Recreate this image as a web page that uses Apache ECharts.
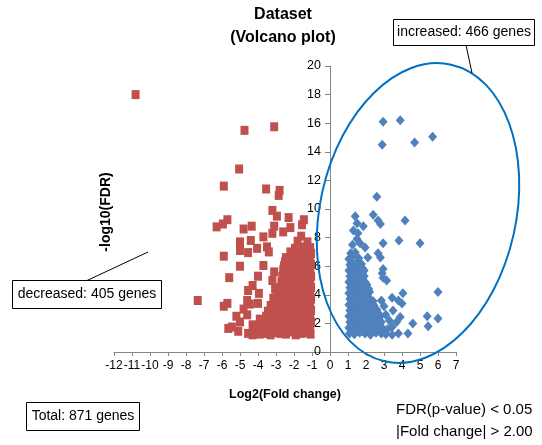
<!DOCTYPE html>
<html>
<head>
<meta charset="utf-8">
<script src="https://cdn.jsdelivr.net/npm/echarts@6/dist/echarts.min.js"></script>
<style>
  html, body { margin: 0; padding: 0; background: #fff; }
  #main { width: 542px; height: 445px; }
</style>
</head>
<body>
<div id="main"></div>
<script>
// decreased genes, log2 fold change / -log10 FDR
var decreased = [
  [-10.8, 18.0], [-4.75, 15.5], [-3.1, 15.75], [-5.05, 12.8], [-5.9, 11.6], [-3.55, 11.4],
  [-2.8, 11.3], [-2.85, 10.95], [-3.2, 9.9], [-2.95, 9.5], [-2.3, 9.4], [-1.45, 9.25], [-1.55, 8.9],
  [-6.3, 8.75], [-5.95, 8.95], [-5.7, 9.25], [-4.8, 8.6], [-4.35, 8.8], [-3.2, 8.3], [-3.1, 8.8],
  [-3.7, 8.05], [-4.4, 7.8], [-5.0, 7.7], [-2.6, 8.4], [-2.2, 8.7], [-5.0, 7.1], [-4.55, 6.95],
  [-4.05, 7.25], [-3.5, 7.35], [-3.4, 7.0], [-5.9, 6.7], [-5.0, 6.0], [-3.7, 6.05], [-3.1, 5.6],
  [-3.2, 5.0], [-5.6, 5.2], [-4.0, 5.3], [-4.3, 4.65], [-4.55, 4.3], [-3.95, 4.1], [-3.05, 4.4],
  [-7.35, 3.6], [-5.9, 3.2], [-5.7, 3.4], [-4.6, 3.6], [-4.45, 3.35], [-4.0, 3.4], [-4.8, 3.0],
  [-5.2, 2.5], [-5.0, 2.1], [-5.65, 1.65], [-5.1, 1.45], [-5.45, 1.75], [-4.3, 1.9], [-4.3, 1.2],
  [-4.6, 2.6], [-3.9, 2.3],
  [-1.08, 1.25], [-1.3, 1.35], [-1.6, 1.3], [-1.9, 1.2], [-2.2, 1.4], [-2.45, 1.25], [-2.75, 1.3],
  [-3.05, 1.35], [-3.3, 1.2], [-3.6, 1.3], [-3.9, 1.25], [-4.2, 1.4], [-4.55, 1.3],
  [-1.1, 1.7], [-1.4, 1.65], [-1.7, 1.75], [-2.0, 1.7], [-2.3, 1.8], [-2.6, 1.65], [-2.9, 1.7],
  [-3.2, 1.75], [-3.5, 1.8], [-3.8, 1.65], [-4.1, 1.7],
  [-1.05, 2.1], [-1.35, 2.15], [-1.65, 2.05], [-1.95, 2.1], [-2.25, 2.0], [-2.55, 2.15], [-2.85, 2.1],
  [-3.15, 2.05], [-3.45, 2.15], [-3.75, 2.0],
  [-1.1, 2.5], [-1.4, 2.45], [-1.7, 2.55], [-2.0, 2.5], [-2.3, 2.6], [-2.6, 2.45], [-2.9, 2.5],
  [-3.2, 2.55], [-3.55, 2.5],
  [-1.05, 2.9], [-1.35, 2.95], [-1.65, 2.85], [-1.95, 2.9], [-2.25, 3.0], [-2.55, 2.85], [-2.85, 2.9],
  [-3.15, 2.95], [-3.45, 2.85],
  [-1.1, 3.3], [-1.4, 3.25], [-1.7, 3.35], [-2.0, 3.3], [-2.3, 3.2], [-2.6, 3.35], [-2.9, 3.3], [-3.3, 3.25],
  [-1.05, 3.7], [-1.35, 3.75], [-1.65, 3.65], [-1.95, 3.7], [-2.25, 3.8], [-2.55, 3.65], [-2.85, 3.7], [-3.15, 3.75],
  [-1.1, 4.1], [-1.4, 4.05], [-1.7, 4.15], [-2.0, 4.1], [-2.3, 4.0], [-2.6, 4.15], [-2.95, 4.1],
  [-1.05, 4.5], [-1.35, 4.55], [-1.65, 4.45], [-1.95, 4.5], [-2.25, 4.6], [-2.55, 4.45], [-2.9, 4.5],
  [-1.1, 4.9], [-1.4, 4.85], [-1.7, 4.95], [-2.0, 4.9], [-2.35, 4.8], [-2.7, 4.9],
  [-1.05, 5.3], [-1.35, 5.35], [-1.65, 5.25], [-1.95, 5.3], [-2.3, 5.4], [-2.65, 5.3],
  [-1.1, 5.7], [-1.4, 5.65], [-1.7, 5.75], [-2.0, 5.7], [-2.3, 5.6], [-2.6, 5.75],
  [-1.05, 6.1], [-1.35, 6.15], [-1.65, 6.05], [-1.95, 6.1], [-2.25, 6.2], [-2.55, 6.05],
  [-1.1, 6.5], [-1.4, 6.45], [-1.7, 6.55], [-2.05, 6.5], [-2.45, 6.6],
  [-1.05, 6.9], [-1.4, 6.95], [-1.8, 6.85], [-2.2, 7.0],
  [-1.1, 7.3], [-1.5, 7.35], [-1.95, 7.25], [-1.25, 7.7], [-1.8, 7.75], [-1.6, 8.1],
  [-1.2, 1.5], [-1.8, 1.55], [-2.4, 1.5], [-3.0, 1.45], [-3.6, 1.55], [-1.5, 1.95], [-2.7, 1.9],
  [-3.3, 2.3], [-1.8, 2.35], [-2.4, 2.75], [-3.0, 3.1], [-1.5, 3.5], [-2.1, 3.9], [-2.7, 4.3],
  [-1.8, 4.7], [-2.4, 5.1], [-1.5, 5.5], [-2.1, 5.9], [-1.8, 6.3], [-1.3, 6.7], [-2.5, 6.3]
];

// increased genes
var increased = [
  [2.95, 16.1], [3.9, 16.2], [2.9, 14.5], [4.7, 14.65], [5.7, 15.05], [2.6, 10.85], [2.4, 9.6],
  [2.67, 9.2], [2.8, 8.95], [4.17, 9.2], [2.95, 7.6], [3.83, 7.8], [5.0, 7.6], [2.67, 6.9], [2.8, 6.6],
  [2.1, 6.6], [2.95, 5.8], [2.9, 5.5], [2.95, 5.2], [3.15, 5.0], [4.05, 4.1], [3.8, 3.6], [4.0, 3.4],
  [3.45, 3.8], [6.0, 4.2], [3.9, 2.45], [3.7, 2.1], [3.45, 1.75], [3.8, 1.3], [4.33, 1.3], [4.6, 2.0],
  [5.4, 2.5], [5.45, 1.8], [6.0, 2.35], [3.45, 1.2], [3.1, 2.6], [3.3, 2.2], [3.0, 3.2], [3.2, 1.6],
  [2.85, 3.6], [3.5, 2.9],
  [1.4, 9.5], [1.5, 9.0], [1.85, 8.8], [1.3, 8.5], [1.5, 7.9], [1.67, 7.6], [1.95, 7.3], [1.25, 7.5], [1.55, 8.3],
  [1.08, 1.3], [1.35, 1.25], [1.65, 1.35], [1.95, 1.3], [2.25, 1.2], [2.55, 1.35], [2.85, 1.3], [3.1, 1.25],
  [1.05, 1.7], [1.35, 1.75], [1.65, 1.65], [1.95, 1.7], [2.25, 1.8], [2.55, 1.65], [2.9, 1.7],
  [1.1, 2.1], [1.4, 2.05], [1.7, 2.15], [2.0, 2.1], [2.3, 2.0], [2.6, 2.15], [2.85, 2.1],
  [1.05, 2.5], [1.35, 2.55], [1.65, 2.45], [1.95, 2.5], [2.25, 2.6], [2.55, 2.45], [2.8, 2.5],
  [1.1, 2.9], [1.4, 2.85], [1.7, 2.95], [2.0, 2.9], [2.3, 2.8], [2.6, 2.95],
  [1.05, 3.3], [1.35, 3.35], [1.65, 3.25], [1.95, 3.3], [2.25, 3.4], [2.45, 3.25],
  [1.1, 3.7], [1.4, 3.65], [1.7, 3.75], [2.0, 3.7], [2.3, 3.6],
  [1.05, 4.1], [1.35, 4.15], [1.65, 4.05], [1.95, 4.1], [2.2, 4.2],
  [1.1, 4.5], [1.4, 4.45], [1.7, 4.55], [2.0, 4.5], [2.15, 4.4],
  [1.05, 4.9], [1.35, 4.95], [1.65, 4.85], [1.95, 4.9],
  [1.1, 5.3], [1.4, 5.25], [1.7, 5.35], [1.9, 5.3],
  [1.05, 5.7], [1.35, 5.75], [1.65, 5.65], [1.9, 5.7],
  [1.1, 6.1], [1.4, 6.05], [1.75, 6.15],
  [1.05, 6.5], [1.6, 6.55], [1.15, 6.9], [1.4, 6.95],
  [1.2, 1.5], [1.5, 1.5], [1.8, 1.45], [2.1, 1.5], [2.4, 1.55], [2.7, 1.5], [3.0, 1.45],
  [1.2, 1.9], [1.5, 1.9], [1.8, 1.95], [2.1, 1.9], [2.4, 1.85], [2.7, 1.9],
  [1.2, 2.3], [1.5, 2.3], [1.8, 2.25], [2.1, 2.3], [2.4, 2.35], [2.7, 2.3],
  [1.2, 2.7], [1.5, 2.75], [1.8, 2.7], [2.1, 2.7], [2.4, 2.65], [2.7, 2.7],
  [1.2, 3.1], [1.5, 3.1], [1.8, 3.15], [2.1, 3.1], [2.4, 3.05],
  [1.2, 3.5], [1.5, 3.5], [1.8, 3.45], [2.1, 3.5], [2.4, 3.55],
  [1.2, 3.9], [1.5, 3.9], [1.8, 3.95], [2.1, 3.9],
  [1.2, 4.3], [1.5, 4.3], [1.8, 4.25], [2.1, 4.3],
  [1.2, 4.7], [1.5, 4.75], [1.8, 4.7], [2.05, 4.7],
  [1.2, 5.1], [1.5, 5.1], [1.8, 5.05],
  [1.2, 5.5], [1.5, 5.45], [1.8, 5.5],
  [1.2, 5.9], [1.5, 5.9], [1.8, 5.85],
  [1.2, 6.3], [1.5, 6.3], [1.25, 6.7]
];

var font = 'Liberation Sans, Arial, sans-serif';
var chart = echarts.init(document.getElementById('main'));

var option = {
  animation: false,
  grid: { left: 114, right: 86, top: 66, bottom: 93, containLabel: false, outerBoundsMode: 'none' },
  xAxis: {
    type: 'value', min: -12, max: 7, interval: 1,
    name: 'Log2(Fold change)', nameLocation: 'middle', nameGap: 36,
    nameTextStyle: { fontFamily: font, fontSize: 12.5, fontWeight: 'bold', color: '#000' },
    axisLine: { onZero: false, lineStyle: { color: '#868686' } },
    axisTick: { lineStyle: { color: '#868686' }, length: 4 },
    axisLabel: { fontFamily: font, fontSize: 12, color: '#000', margin: 8, showMinLabel: true, showMaxLabel: true, hideOverlap: false },
    splitLine: { show: false }
  },
  yAxis: {
    type: 'value', min: 0, max: 20, interval: 2,
    position: 'left', offset: -216,
    axisLine: { show: true, onZero: false, lineStyle: { color: '#868686' } },
    axisTick: { show: true, lineStyle: { color: '#868686' }, length: 5 },
    axisLabel: { fontFamily: font, fontSize: 12.5, color: '#000', margin: 9, showMinLabel: true, showMaxLabel: true },
    splitLine: { show: false }
  },
  series: [
    {
      type: 'scatter', name: 'decreased', data: decreased,
      symbol: 'rect', symbolSize: [8, 9],
      itemStyle: { color: '#C0504D', opacity: 1 }
    },
    {
      type: 'scatter', name: 'increased', data: increased,
      symbol: 'diamond', symbolSize: [9, 10],
      itemStyle: { color: '#4F81BD', opacity: 1 }
    }
  ],
  graphic: [
    {
      type: 'text', x: 283, y: 15, z: 100,
      style: { text: 'Dataset', font: 'bold 16px ' + font, fill: '#000', align: 'center', verticalAlign: 'middle' }
    },
    {
      type: 'text', x: 283, y: 38, z: 100,
      style: { text: '(Volcano plot)', font: 'bold 16px ' + font, fill: '#000', align: 'center', verticalAlign: 'middle' }
    },
    {
      // y axis title
      type: 'text', x: 106, y: 212, rotation: Math.PI / 2, z: 100,
      style: { text: '-log10(FDR)', font: 'bold 14px ' + font, fill: '#000', align: 'center', verticalAlign: 'middle' }
    },
    {
      type: 'ellipse', x: 418, y: 213, rotation: -0.22, z: 100,
      shape: { cx: 0, cy: 0, rx: 98, ry: 152 },
      style: { fill: 'none', stroke: '#0070C0', lineWidth: 2 }
    },
    {
      type: 'line', z: 101,
      shape: { x1: 466, y1: 45, x2: 472, y2: 73 },
      style: { stroke: '#000', lineWidth: 1 }
    },
    {
      type: 'rect', z: 102,
      shape: { x: 393.5, y: 19.5, width: 141, height: 26 },
      style: { fill: '#fff', stroke: '#000', lineWidth: 1 }
    },
    {
      type: 'text', x: 464, y: 32.5, z: 103,
      style: { text: 'increased: 466 genes', font: '14px ' + font, fill: '#000', align: 'center', verticalAlign: 'middle' }
    },
    {
      type: 'line', z: 101,
      shape: { x1: 86, y1: 281, x2: 148, y2: 252 },
      style: { stroke: '#000', lineWidth: 1 }
    },
    {
      type: 'rect', z: 102,
      shape: { x: 12.5, y: 280.5, width: 149, height: 28 },
      style: { fill: '#fff', stroke: '#000', lineWidth: 1 }
    },
    {
      type: 'text', x: 87, y: 294.5, z: 103,
      style: { text: 'decreased: 405 genes', font: '14px ' + font, fill: '#000', align: 'center', verticalAlign: 'middle' }
    },
    {
      type: 'rect', z: 102,
      shape: { x: 26.5, y: 402.5, width: 113, height: 28 },
      style: { fill: '#fff', stroke: '#000', lineWidth: 1 }
    },
    {
      type: 'text', x: 83, y: 416.5, z: 103,
      style: { text: 'Total: 871 genes', font: '14px ' + font, fill: '#000', align: 'center', verticalAlign: 'middle' }
    },
    {
      type: 'text', x: 396, y: 410, z: 103,
      style: { text: 'FDR(p-value) < 0.05', font: '15px ' + font, fill: '#000', align: 'left', verticalAlign: 'middle' }
    },
    {
      type: 'text', x: 396, y: 432, z: 103,
      style: { text: '|Fold change| > 2.00', font: '15px ' + font, fill: '#000', align: 'left', verticalAlign: 'middle' }
    }
  ]
};

chart.setOption(option);
</script>
</body>
</html>
